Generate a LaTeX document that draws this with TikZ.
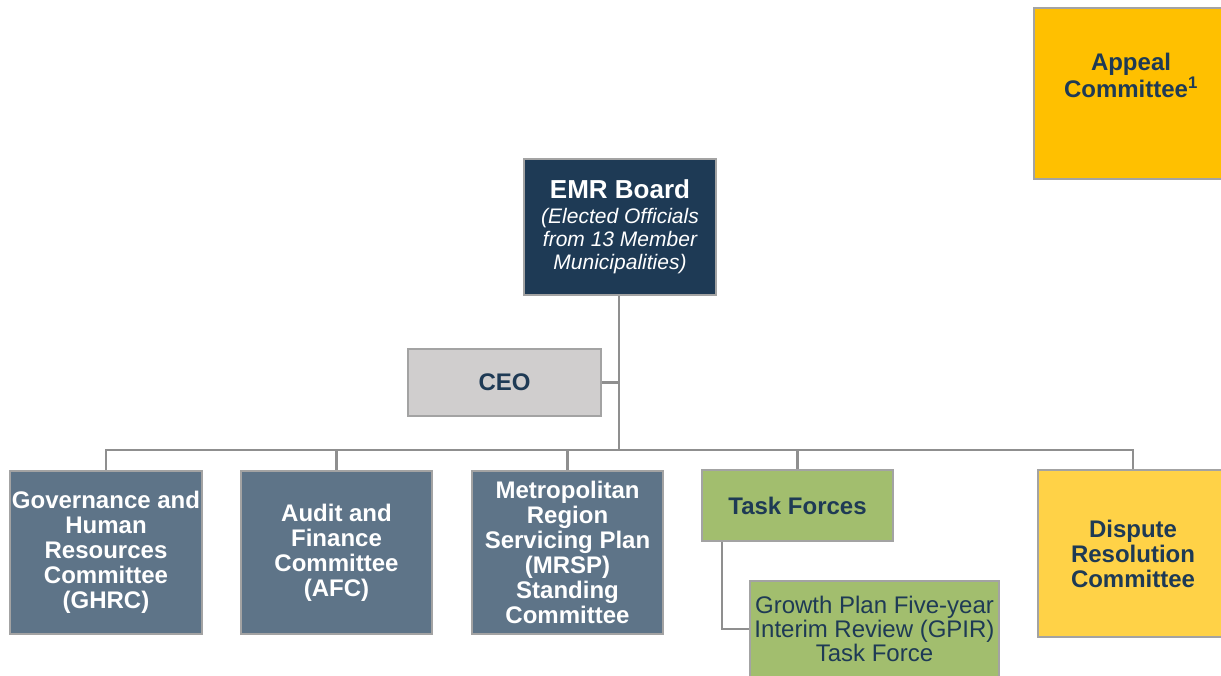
\documentclass[tikz,border=0pt]{standalone}
\usepackage{fontspec}
\setmainfont{Liberation Sans}
\definecolor{navy}{HTML}{1E3A55}
\definecolor{steel}{HTML}{5E7488}
\definecolor{bordergrey}{HTML}{A3A3A3}
\definecolor{linegrey}{HTML}{8F8F8F}
\definecolor{ceogrey}{HTML}{D0CECE}
\definecolor{tfgreen}{HTML}{A2BE6E}
\definecolor{appealyellow}{HTML}{FFC000}
\definecolor{disputeyellow}{HTML}{FFD247}
\newcommand\emrital{\fontsize{21}{23}\selectfont\mdseries\itshape}
\tikzset{
  box/.style={draw=bordergrey, line width=2.6pt, rectangle, inner sep=0pt, align=center},
  committee/.style={box, fill=steel, text=white, font=\fontsize{24}{25}\selectfont\bfseries},
  navytxt/.style={text=navy, font=\fontsize{24}{25}\selectfont\bfseries, align=center},
  conn/.style={draw=linegrey, line width=2.6pt}
}
\begin{document}
\begin{tikzpicture}[x=1pt,y=-1pt]
\clip (0,0) rectangle (1221,675);
\fill[white] (0,0) rectangle (1221,675);

% Appeal committee
\node[box, fill=appealyellow, minimum width=194, minimum height=171] (appeal) at (1131,93.5) {};
\node[navytxt, font=\fontsize{24}{27}\selectfont\bfseries] (appealtxt) at (1131,75) {Appeal\\Committee\textsuperscript{1}};

% EMR Board
\node[box, fill=navy, text=white, minimum width=192, minimum height=136,
  font=\fontsize{26}{23.3}\selectfont\bfseries] (emr) at (620,227)
  {EMR Board\\[1pt]
   \emrital (Elected Officials\\\emrital from 13 Member\\\emrital Municipalities)};

% CEO
\node[box, fill=ceogrey, text=navy, font=\fontsize{24}{25}\selectfont\bfseries, minimum width=193, minimum height=67] (ceo) at (504.5,382.5) {CEO};

% Committees
\node[committee, minimum width=192, minimum height=163] (ghrc) at (106,552.5)
  {Governance and\\Human\\Resources\\Committee\\(GHRC)};
\node[committee, minimum width=191, minimum height=163] (afc) at (336.5,552.5)
  {Audit and\\Finance\\Committee\\(AFC)};
\node[committee, minimum width=191, minimum height=163] (mrsp) at (567.5,552.5)
  {Metropolitan\\Region\\Servicing Plan\\(MRSP)\\Standing\\Committee};

% Task forces
\node[box, fill=tfgreen, text=navy, font=\fontsize{24}{25}\selectfont\bfseries, minimum width=191, minimum height=71] (tf) at (797.5,505.5) {Task Forces};
\node[box, fill=tfgreen, text=navy, font=\fontsize{24}{24}\selectfont, minimum width=249, minimum height=96] (gpir) at (874.5,629)
  {Growth Plan Five-year\\Interim Review (GPIR)\\Task Force};

% Dispute resolution
\node[box, fill=disputeyellow, text=navy, font=\fontsize{24}{25}\selectfont\bfseries, minimum width=190, minimum height=167] (dispute) at (1133,553.5)
  {Dispute\\Resolution\\Committee};

% Connectors
\coordinate (hub) at (619,450);
\coordinate (tfdrop) at (722,541);
\draw[conn] (emr.south -| hub) -- (hub);
\draw[conn] (ceo.east) -- (ceo.east -| hub);
\draw[conn] (ghrc.north) |- (hub) -| (dispute.north);
\draw[conn] (afc.north) -- (afc.north |- hub);
\draw[conn] (mrsp.north) -- (mrsp.north |- hub);
\draw[conn] (tf.north) -- (tf.north |- hub);
\draw[conn] (tf.south -| tfdrop) |- (gpir.west);
\end{tikzpicture}
\end{document}
